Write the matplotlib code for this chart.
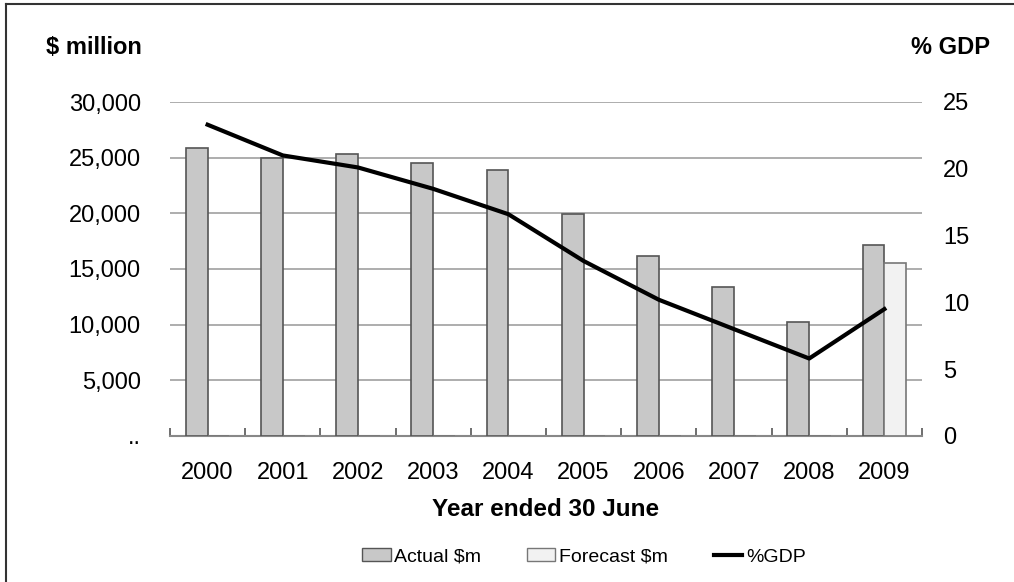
import matplotlib
matplotlib.use("Agg")
import matplotlib.pyplot as plt
import numpy as np
from matplotlib.patches import Patch
from matplotlib.lines import Line2D

plt.rcParams['font.family'] = ['Liberation Sans', 'DejaVu Sans']

years = ["2000", "2001", "2002", "2003", "2004", "2005", "2006", "2007", "2008", "2009"]
actual = [25900, 25000, 25350, 24500, 23850, 19900, 16200, 13400, 10250, 17150]
forecast = [0, 0, 0, 0, 0, 0, 0, 0, 0, 15500]
gdp_pct = [23.3, 21.0, 20.1, 18.5, 16.6, 13.1, 10.2, 8.0, 5.8, 9.5]
left_ticks = [0, 5000, 10000, 15000, 20000, 25000, 30000]
left_labels = ["..", "5,000", "10,000", "15,000", "20,000", "25,000", "30,000"]
right_ticks = [0, 5, 10, 15, 20, 25]

fig = plt.figure(figsize=(10.14, 5.82), dpi=100)
ax = fig.add_axes([170 / 1014, 146 / 582, 752 / 1014, 334 / 582])
ax2 = ax.twinx()

x = np.arange(len(years))
w = 0.29
ax.bar(x - w / 2, actual, w, color="#c8c8c8", edgecolor="#555555", linewidth=1.2, zorder=3)
ax.bar(x + w / 2, forecast, w, color="#f2f2f2", edgecolor="#777777", linewidth=1.2, zorder=3)
ax2.plot(x, gdp_pct, color="black", linewidth=3, zorder=4)

ax.set_xlim(-0.5, len(years) - 0.5)
ax.set_ylim(0, 30000)
ax2.set_ylim(0, 25)
ax.set_yticks(left_ticks)
ax.set_yticklabels(left_labels)
ax2.set_yticks(right_ticks)

ax.yaxis.grid(True, color="#a0a0a0", linewidth=1.2, zorder=0)
ax.set_axisbelow(True)

for a in (ax, ax2):
    for s in ("left", "right", "top"):
        a.spines[s].set_visible(False)
ax2.spines["bottom"].set_visible(False)
ax.spines["bottom"].set_color("#888888")
ax.spines["bottom"].set_linewidth(1.5)

ax.set_xticks(x)
ax.set_xticklabels(years)
ax.set_xticks(np.arange(-0.5, len(years)), minor=True)
ax.tick_params(axis="x", which="major", length=0, pad=19, labelsize=17)
ax.tick_params(axis="x", which="minor", direction="in", length=6, color="#555555", width=1.2)
ax.tick_params(axis="y", length=0, pad=21, labelsize=17)
ax2.tick_params(axis="y", length=0, pad=15, labelsize=17)

ax.set_xlabel("Year ended 30 June", fontsize=17.5, fontweight="bold", labelpad=10)
fig.text(46 / 1014, 1 - 48 / 582, "$ million", fontsize=17, fontweight="bold", va="center", ha="left")
fig.text(990 / 1014, 1 - 48 / 582, "% GDP", fontsize=17, fontweight="bold", va="center", ha="right")

handles = [Patch(facecolor="#c8c8c8", edgecolor="#555555"),
           Patch(facecolor="#f2f2f2", edgecolor="#777777"),
           Line2D([0], [0], color="black", linewidth=3)]
fig.legend(handles, ["Actual $m", "Forecast $m", "%GDP"], loc="center", ncol=3,
           bbox_to_anchor=(584 / 1014, 1 - 557 / 582), frameon=False, fontsize=14,
           handlelength=1.45, handleheight=0.6, handletextpad=0.2, columnspacing=2.35)

# outer frame
fig.add_artist(Line2D([6 / 1014, 6 / 1014], [0, 1 - 4 / 582], color="#333333", linewidth=1.5))
fig.add_artist(Line2D([6 / 1014, 1], [1 - 4 / 582, 1 - 4 / 582], color="#333333", linewidth=1.5))

fig.savefig("out.png", dpi=100)
